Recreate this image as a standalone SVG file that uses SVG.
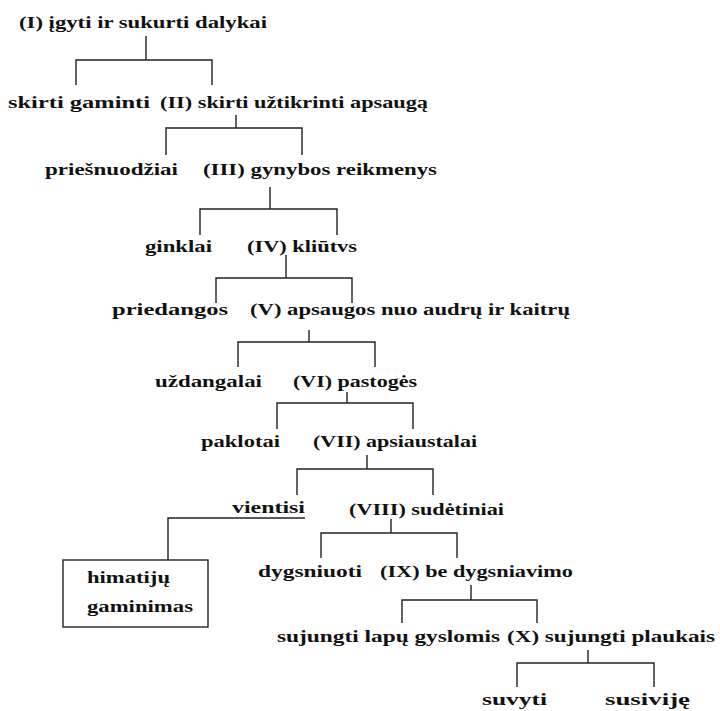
<svg xmlns="http://www.w3.org/2000/svg" width="720" height="711" viewBox="0 0 720 711">
<style>
text{font-family:"Liberation Serif","DejaVu Serif",serif;font-weight:bold;font-size:17.5px;fill:#111}
.c line,.c path{stroke:#222;stroke-width:1.4;fill:none}
.box{fill:#fff;stroke:#222;stroke-width:1.4}
.ul{stroke:#222;stroke-width:1.4}
</style>
<rect width="720" height="711" fill="#fff"/>
<g class="c" id="connectors">
<path d="M146 36V60M76 85V60H212V85"/>
<path d="M236 115V128M166 155V128H302V155"/>
<path d="M270 187V209M200 235V209H337V235"/>
<path d="M286 255V278M216 303V278H352V303"/>
<path d="M309 330V342M238 367V342H375V367"/>
<path d="M347 392V403M277 429V403H413V429"/>
<path d="M367 455V469M297 495V469H433V495"/>
<path d="M168 560V518H232"/>
<path d="M391 519V533M321 558V533H457V558"/>
<path d="M471 585V600M402 623V600H537V623"/>
<path d="M588 650V663M517 687V663H654V687"/>
</g>
<g id="n1"><text x="19" y="28" textLength="248" lengthAdjust="spacingAndGlyphs">(I) įgyti ir sukurti dalykai</text></g>
<g id="n2"><text x="8" y="108" textLength="142" lengthAdjust="spacingAndGlyphs">skirti gaminti</text></g>
<g id="n3"><text x="160" y="108" textLength="268" lengthAdjust="spacingAndGlyphs">(II) skirti užtikrinti apsaugą</text></g>
<g id="n4"><text x="45" y="175" textLength="133" lengthAdjust="spacingAndGlyphs">priešnuodžiai</text></g>
<g id="n5"><text x="203" y="175" textLength="234" lengthAdjust="spacingAndGlyphs">(III) gynybos reikmenys</text></g>
<g id="n6"><text x="145" y="252" textLength="67" lengthAdjust="spacingAndGlyphs">ginklai</text></g>
<g id="n7"><text x="247" y="252" textLength="110" lengthAdjust="spacingAndGlyphs">(IV) kliūtvs</text></g>
<g id="n8"><text x="112" y="315" textLength="116" lengthAdjust="spacingAndGlyphs">priedangos</text></g>
<g id="n9"><text x="250" y="315" textLength="320" lengthAdjust="spacingAndGlyphs">(V) apsaugos nuo audrų ir kaitrų</text></g>
<g id="n10"><text x="155" y="387" textLength="107" lengthAdjust="spacingAndGlyphs">uždangalai</text></g>
<g id="n11"><text x="293" y="387" textLength="124" lengthAdjust="spacingAndGlyphs">(VI) pastogės</text></g>
<g id="n12"><text x="201" y="447" textLength="79" lengthAdjust="spacingAndGlyphs">paklotai</text></g>
<g id="n13"><text x="313" y="447" textLength="164" lengthAdjust="spacingAndGlyphs">(VII) apsiaustalai</text></g>
<g id="n14"><text x="232" y="513" textLength="73" lengthAdjust="spacingAndGlyphs">vientisi</text><line class="ul" x1="232" y1="518" x2="305" y2="518"/></g>
<g id="n15"><text x="349" y="515" textLength="155" lengthAdjust="spacingAndGlyphs">(VIII) sudėtiniai</text></g>
<g id="n16"><rect class="box" x="63" y="560" width="145" height="67"/><text x="87" y="583" textLength="83" lengthAdjust="spacingAndGlyphs">himatijų</text><text x="87" y="612" textLength="106" lengthAdjust="spacingAndGlyphs">gaminimas</text></g>
<g id="n17"><text x="258" y="577" textLength="104" lengthAdjust="spacingAndGlyphs">dygsniuoti</text></g>
<g id="n18"><text x="380" y="577" textLength="193" lengthAdjust="spacingAndGlyphs">(IX) be dygsniavimo</text></g>
<g id="n19"><text x="277" y="642" textLength="223" lengthAdjust="spacingAndGlyphs">sujungti lapų gyslomis</text></g>
<g id="n20"><text x="507" y="642" textLength="208" lengthAdjust="spacingAndGlyphs">(X) sujungti plaukais</text></g>
<g id="n21"><text x="482" y="705" textLength="65" lengthAdjust="spacingAndGlyphs">suvyti</text></g>
<g id="n22"><text x="605" y="705" textLength="85" lengthAdjust="spacingAndGlyphs">susiviję</text></g>
</svg>
